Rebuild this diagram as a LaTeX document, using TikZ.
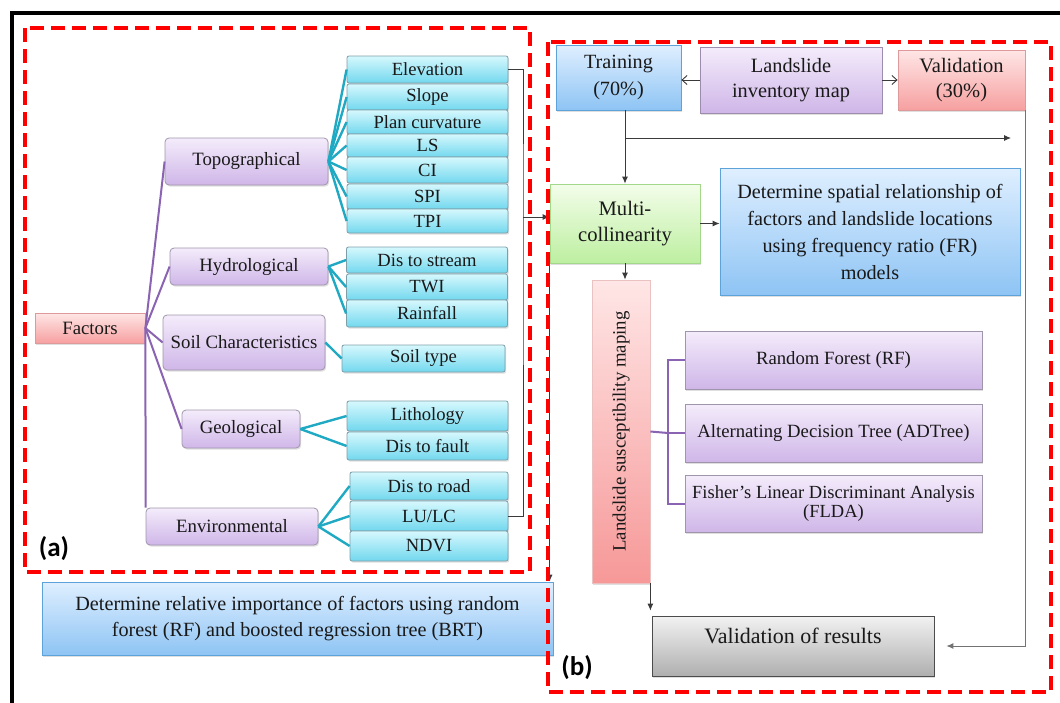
\documentclass[tikz,border=0pt]{standalone}
\usepackage{fontspec}
\setmainfont{Liberation Serif}
\newfontfamily\boxfont{Liberation Serif}
\newfontfamily\labfont{Carlito}
\usepackage{graphicx}
\usetikzlibrary{arrows.meta,shadows}

\definecolor{cytop}{HTML}{D6F8FD}
\definecolor{cybot}{HTML}{72D8EE}
\definecolor{cybd}{HTML}{7E9EA8}
\definecolor{putop}{HTML}{F4ECFB}
\definecolor{pubot}{HTML}{CFB6E8}
\definecolor{pubd}{HTML}{A096AC}
\definecolor{pktop}{HTML}{FFE6E6}
\definecolor{pkbot}{HTML}{F6A0A0}
\definecolor{pkbd}{HTML}{DE9A9A}
\definecolor{bltop}{HTML}{DFEFFF}
\definecolor{blbot}{HTML}{8EC4F4}
\definecolor{blbd}{HTML}{5EA2DA}
\definecolor{grtop}{HTML}{F3FDEA}
\definecolor{grbot}{HTML}{BDEFA0}
\definecolor{grbd}{HTML}{A3D88A}
\definecolor{gytop}{HTML}{F2F2F2}
\definecolor{gybot}{HTML}{AFAFAF}
\definecolor{cyline}{HTML}{1FA9C3}
\definecolor{puline}{HTML}{8B63B3}
\definecolor{arline}{HTML}{3A3A3A}

\begin{document}
\begin{tikzpicture}[x=1pt, y=-1pt,
  box/.style={draw, line width=0.8pt, inner sep=2pt, align=center, text=black!90,
    drop shadow={shadow xshift=1.2pt, shadow yshift=-1.6pt, opacity=0.25}},
  leaf/.style={box, rounded corners=2pt, draw=cybd, top color=cytop, bottom color=cybot,
    minimum width=161pt, font=\boxfont\fontsize{18.6}{20}\selectfont},
  cat/.style={box, rounded corners=4pt, draw=pubd, top color=putop, bottom color=pubot,
    font=\boxfont\fontsize{18.8}{20}\selectfont},
  model/.style={box, draw=pubd, top color=putop, bottom color=pubot,
    minimum width=297pt, minimum height=58pt, font=\boxfont\fontsize{18.7}{19}\selectfont},
  pinkbox/.style={box, draw=pkbd, top color=pktop, bottom color=pkbot},
  bluebox/.style={box, draw=blbd, top color=bltop, bottom color=blbot,
    font=\boxfont\fontsize{20.2}{26.5}\selectfont},
  cylink/.style={draw=cyline, line width=2.4pt},
  pulink/.style={draw=puline, line width=2pt},
  arrow/.style={draw=arline, line width=0.9pt, -{Latex[length=7pt,width=6pt]}},
  openarrow/.style={draw=arline, line width=0.9pt, -{Straight Barb[length=5pt,width=9pt]}},
  reddash/.style={draw=red, line width=4pt, dash pattern=on 14pt off 7pt},
  lab/.style={font=\labfont\bfseries\fontsize{27}{30}\selectfont}]
\useasboundingbox (0,0) rectangle (1060,702);

% frame
\draw[line width=4.5pt] (12,720) -- (12,13) -- (1080,13);

% (a) factors tree
\node[pinkbox, minimum width=110pt, minimum height=30pt, font=\boxfont\fontsize{18.8}{20}\selectfont] (fac) at (90,328) {Factors};
\node[cat, minimum width=163pt, minimum height=47pt] (topo) at (246.5,161.5) {Topographical};
\node[cat, minimum width=158pt, minimum height=37pt] (hydro) at (249,266.5) {Hydrological};
\node[cat, minimum width=162pt, minimum height=55pt] (soil) at (244,342.5) {Soil Characteristics};
\node[cat, minimum width=118pt, minimum height=38pt] (geo) at (241,429) {Geological};
\node[cat, minimum width=172pt, minimum height=37pt] (env) at (232,526.5) {Environmental};

\node[leaf, minimum height=27pt] (elev) at (427.5,69.5) {Elevation};
\node[leaf, minimum height=26pt] (slope) at (427.5,97) {Slope};
\node[leaf, minimum height=24pt] (plan) at (427.5,122) {Plan curvature};
\node[leaf, minimum height=23pt] (ls) at (427.5,145.5) {LS};
\node[leaf, minimum height=26pt] (ci) at (427.5,170) {CI};
\node[leaf, minimum height=25pt] (spi) at (427.5,196.5) {SPI};
\node[leaf, minimum height=24pt] (tpi) at (427.5,221) {TPI};
\node[leaf, minimum height=26pt] (stream) at (427,260) {Dis to stream};
\node[leaf, minimum height=26pt] (twi) at (427,287) {TWI};
\node[leaf, minimum height=27pt] (rain) at (427,313.5) {Rainfall};
\node[leaf, minimum width=163pt, minimum height=27pt] (stype) at (423.5,358.5) {Soil type};
\node[leaf, minimum height=30pt] (litho) at (427.5,416) {Lithology};
\node[leaf, minimum height=28pt] (fault) at (427.5,446) {Dis to fault};
\node[leaf, minimum width=158pt, minimum height=28pt] (road) at (429,486) {Dis to road};
\node[leaf, minimum width=158pt, minimum height=30pt] (lulc) at (429,516) {LU/LC};
\node[leaf, minimum width=158pt, minimum height=30pt] (ndvi) at (429,546) {NDVI};

\foreach \n in {topo,hydro,soil,geo}
  \draw[pulink] (fac.east) -- (\n.west);
\draw[pulink] (fac.east) -- (env.north west);
\foreach \n in {elev,slope,plan,ls,ci,spi,tpi}
  \draw[cylink] (topo.east) -- (\n.west);
\foreach \n in {stream,twi,rain}
  \draw[cylink] (hydro.east) -- (\n.west);
\draw[cylink] (soil.east) -- (stype.west);
\foreach \n in {litho,fault}
  \draw[cylink] (geo.east) -- (\n.west);
\foreach \n in {road,lulc,ndvi}
  \draw[cylink] (env.east) -- (\n.west);

\node[bluebox, minimum width=511pt, minimum height=73pt] (brt) at (297.5,618.5)
  {Determine relative importance of factors using random\\forest (RF) and boosted regression tree (BRT)};

% (b) modelling
\node[bluebox, minimum width=125pt, minimum height=65pt] (train) at (618.5,77.5) {Training\\(70\%)};
\node[box, draw=pubd!80!puline, top color=putop, bottom color=pubot, minimum width=182pt, minimum height=66pt,
  font=\boxfont\fontsize{20.3}{25}\selectfont] (inv) at (791,80) {Landslide\\inventory map};
\node[pinkbox, minimum width=127pt, minimum height=60pt, font=\boxfont\fontsize{20.5}{25}\selectfont] (val) at (961.5,80) {Validation\\(30\%)};
\node[box, draw=grbd, top color=grtop, bottom color=grbot, minimum width=150pt, minimum height=79pt,
  font=\boxfont\fontsize{20.6}{26.5}\selectfont] (mc) at (625,223.5) {Multi-\\collinearity};
\node[bluebox, minimum width=300pt, minimum height=127pt, font=\boxfont\fontsize{20.2}{27}\selectfont] (fr) at (870,231.5)
  {Determine spatial relationship of\\factors and landslide locations\\using frequency ratio (FR)\\models};
\node[box, draw=pkbd!60, top color=pktop, bottom color=pkbot!95!red, minimum width=58pt, minimum height=303pt,
  font=\boxfont\fontsize{18.8}{20}\selectfont] (lsm) at (621,431.5) {\rotatebox{90}{Landslide susceptibility maping}};
\node[model] (rf) at (833.5,360) {Random Forest (RF)};
\node[model] (adt) at (833.5,433) {Alternating Decision Tree (ADTree)};
\node[model, minimum height=57pt, font=\boxfont\fontsize{18.5}{19.5}\selectfont] (flda) at (833.5,503.5) {Fisher’s Linear Discriminant Analysis\\(FLDA)};
\node[box, draw=black!70, top color=gytop, bottom color=gybot, minimum width=282pt, inner sep=0pt,
  text height=27pt, text depth=33pt, font=\boxfont\fontsize{22}{24}\selectfont] (vres) at (793,646) {Validation of results};

\coordinate (fan) at (523,217);
\coordinate (split) at (1011,138);
\coordinate (mb) at (668,433);

\draw[draw=arline, line width=0.9pt] (elev.east) -| (fan) |- (lulc.east);
\draw[arrow] (fan) -- (fan -| mc.west);
\draw[arrow] (mc.south west) -- (mc.south west |- brt.north);
\draw[openarrow] (inv.west) -- (inv.west -| train.east);
\draw[openarrow] (inv.east) -- (inv.east -| val.west);
\draw[arrow] (train.south -| mc.north) -- (mc.north);
\draw[arrow] (mc.north |- split) -- (split);
\draw[arrow] (mc.east) -- (mc.east -| fr.west);
\draw[arrow] (mc.south) -- (mc.south |- lsm.north);
\draw[arrow, shorten >=5pt] (lsm.south east) -- (lsm.south east |- vres.north);
\draw[arrow, draw=black!55, shorten >=12pt] (val.south east) |- (vres.east);

\draw[pulink] (lsm.east) -- (mb);
\draw[pulink] (rf.west) -| (mb) |- (flda.west);
\draw[pulink] (mb) -- (adt.west);

% dashed group frames
\draw[reddash] (25,28) rectangle (530,572);
\draw[reddash] (548,42) rectangle (1051,692);
\node[lab] (laba) at (54,549) {(a)};
\node[lab] (labb) at (577,668) {(b)};
\end{tikzpicture}
\end{document}
